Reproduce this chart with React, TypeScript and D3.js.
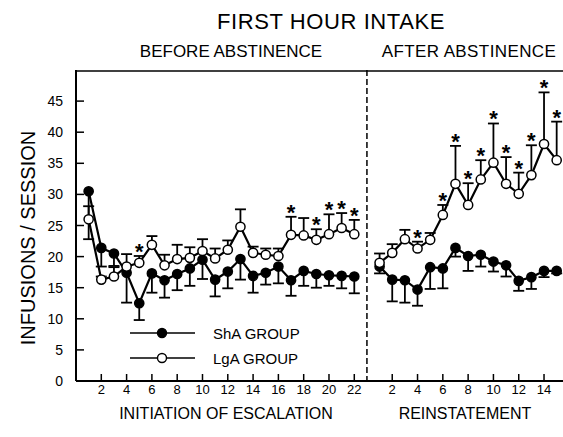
import { useEffect, useRef } from "react";
import * as d3 from "d3";

// sessions
const beforeSessions = [1, 2, 3, 4, 5, 6, 7, 8, 9, 10, 11, 12, 13, 14, 15, 16, 17, 18, 19, 20, 21, 22];
const afterSessions = [1, 2, 3, 4, 5, 6, 7, 8, 9, 10, 11, 12, 13, 14, 15];

// ShA (filled), error bars drawn downward
const shaBefore = [30.5, 21.4, 20.5, 17.4, 12.5, 17.3, 16.2, 17.2, 18.1, 19.5, 16.3, 17.6, 19.6, 16.9, 17.4, 18.4, 16.2, 17.7, 17.2, 17.0, 16.9, 16.8];
const shaBeforeErr = [7.7, 3.0, 2.0, 4.8, 2.7, 3.1, 2.8, 2.6, 2.8, 3.1, 2.7, 2.7, 3.3, 2.7, 1.9, 2.7, 2.5, 2.4, 2.2, 1.7, 2.0, 2.7];
const shaAfter = [18.4, 16.3, 16.2, 14.7, 18.3, 18.1, 21.4, 20.1, 20.3, 19.2, 18.6, 16.1, 16.7, 17.7, 17.7];
const shaAfterErr = [1.1, 3.5, 3.6, 2.6, 3.5, 3.2, 1.4, 2.4, 1.9, 1.6, 1.8, 1.6, 1.9, 1.0, 0.4];

// LgA (open), error bars drawn upward
const lgaBefore = [26.0, 16.3, 16.8, 18.4, 19.0, 21.9, 18.6, 19.6, 19.8, 20.9, 19.7, 21.1, 24.8, 20.6, 20.3, 20.1, 23.5, 23.4, 22.7, 23.6, 24.6, 23.6];
const lgaBeforeErr = [2.1, 0.5, 1.5, 2.0, 1.1, 1.4, 1.7, 2.3, 1.7, 1.9, 1.6, 1.5, 2.8, 1.0, 1.0, 1.2, 2.9, 2.8, 1.7, 3.2, 2.4, 2.3];
const lgaAfter = [19.0, 20.6, 22.8, 21.3, 22.7, 26.7, 31.7, 28.3, 32.4, 35.1, 31.7, 30.1, 33.1, 38.1, 35.5];
const lgaAfterErr = [1.5, 1.4, 1.5, 1.1, 1.1, 1.6, 6.1, 3.5, 3.1, 6.3, 4.3, 3.4, 4.8, 8.3, 6.2];

// significance stars (session numbers)
const starsBefore = [5, 17, 19, 20, 21, 22];
const starsAfter = [4, 6, 7, 8, 9, 10, 11, 12, 13, 14, 15];

const yTicks = [0, 5, 10, 15, 20, 25, 30, 35, 40, 45];
const beforeTicks = [2, 4, 6, 8, 10, 12, 14, 16, 18, 20, 22];
const afterTicks = [2, 4, 6, 8, 10, 12, 14];

const AFTER_OFFSET = 23;
const FONT = "'Liberation Sans', Arial, sans-serif";

const App = () => {
  const svgRef = useRef<SVGSVGElement | null>(null);

  useEffect(() => {
    const width = 563;
    const height = 437;
    const left = 76;
    const top = 70;
    const bottom = 381;

    const x = d3.scaleLinear().domain([0, 38.5]).range([left, width]);
    const y = d3.scaleLinear().domain([0, 50]).range([bottom, top]);

    const svg = d3.select(svgRef.current);
    svg.selectAll("*").remove();

    // frame
    svg.append("line").attr("x1", left).attr("x2", left).attr("y1", top).attr("y2", bottom)
      .attr("stroke", "#000").attr("stroke-width", 2);
    svg.append("line").attr("x1", left).attr("x2", width).attr("y1", bottom).attr("y2", bottom)
      .attr("stroke", "#000").attr("stroke-width", 2);
    svg.append("line").attr("x1", left).attr("x2", width).attr("y1", top + 1).attr("y2", top + 1)
      .attr("stroke", "#000").attr("stroke-width", 1.5);
    svg.append("line").attr("x1", x(AFTER_OFFSET)).attr("x2", x(AFTER_OFFSET))
      .attr("y1", top).attr("y2", bottom)
      .attr("stroke", "#000").attr("stroke-width", 1.5).attr("stroke-dasharray", "6,3");

    // y ticks
    const yt = svg.append("g");
    yt.selectAll("line").data(yTicks.filter((d) => d > 0)).join("line")
      .attr("x1", left).attr("x2", left + 8).attr("y1", (d) => y(d)).attr("y2", (d) => y(d))
      .attr("stroke", "#000").attr("stroke-width", 1.5);
    yt.selectAll("text").data(yTicks).join("text")
      .attr("x", 63).attr("y", (d) => y(d) + 5).attr("text-anchor", "end")
      .attr("font-family", FONT).attr("font-size", 14).text((d) => d);

    // x ticks
    const xTicks = [
      ...beforeTicks.map((d) => ({ p: d, label: d })),
      ...afterTicks.map((d) => ({ p: d + AFTER_OFFSET, label: d })),
    ];
    const xt = svg.append("g");
    xt.selectAll("line").data(xTicks).join("line")
      .attr("x1", (d) => x(d.p)).attr("x2", (d) => x(d.p)).attr("y1", bottom).attr("y2", bottom - 7)
      .attr("stroke", "#000").attr("stroke-width", 1.5);
    xt.selectAll("text").data(xTicks).join("text")
      .attr("x", (d) => x(d.p)).attr("y", 394).attr("text-anchor", "middle")
      .attr("font-family", FONT).attr("font-size", 13).text((d) => d.label);

    type Pt = { p: number; v: number; e: number };
    const build = (sessions: number[], vals: number[], errs: number[], off: number): Pt[] =>
      sessions.map((s, i) => ({ p: s + off, v: vals[i], e: errs[i] }));

    const groups = [
      {
        segs: [build(beforeSessions, shaBefore, shaBeforeErr, 0), build(afterSessions, shaAfter, shaAfterErr, AFTER_OFFSET)],
        dir: -1,
        fill: "#000",
      },
      {
        segs: [build(beforeSessions, lgaBefore, lgaBeforeErr, 0), build(afterSessions, lgaAfter, lgaAfterErr, AFTER_OFFSET)],
        dir: 1,
        fill: "#fff",
      },
    ];

    const line = d3.line<Pt>().x((d) => x(d.p)).y((d) => y(d.v));

    groups.forEach((g) => {
      g.segs.forEach((seg) => {
        svg.append("path").datum(seg).attr("fill", "none").attr("stroke", "#000")
          .attr("stroke-width", 2.2).attr("d", line);
        const eb = svg.append("g").attr("stroke", "#000").attr("stroke-width", 1.8);
        eb.selectAll("line.v").data(seg).join("line").attr("class", "v")
          .attr("x1", (d) => x(d.p)).attr("x2", (d) => x(d.p))
          .attr("y1", (d) => y(d.v)).attr("y2", (d) => y(d.v + g.dir * d.e));
        eb.selectAll("line.c").data(seg).join("line").attr("class", "c")
          .attr("x1", (d) => x(d.p) - 5.5).attr("x2", (d) => x(d.p) + 5.5)
          .attr("y1", (d) => y(d.v + g.dir * d.e)).attr("y2", (d) => y(d.v + g.dir * d.e));
      });
    });

    groups.forEach((g) => {
      g.segs.forEach((seg) => {
        svg.append("g").selectAll("circle").data(seg).join("circle")
          .attr("cx", (d) => x(d.p)).attr("cy", (d) => y(d.v)).attr("r", 4.6)
          .attr("fill", g.fill).attr("stroke", "#000").attr("stroke-width", 1.5);
      });
    });

    // stars above LgA error bars
    const stars = [
      ...starsBefore.map((s) => ({ p: s, top: lgaBefore[s - 1] + lgaBeforeErr[s - 1] })),
      ...starsAfter.map((s) => ({ p: s + AFTER_OFFSET, top: lgaAfter[s - 1] + lgaAfterErr[s - 1] })),
    ];
    svg.append("g").selectAll("text").data(stars).join("text")
      .attr("x", (d) => x(d.p)).attr("y", (d) => y(d.top) + 3).attr("text-anchor", "middle")
      .attr("font-family", FONT).attr("font-size", 22).attr("font-weight", "bold").text("*");

    // legend
    const legend = [
      { label: "ShA GROUP", fill: "#000", yy: 333 },
      { label: "LgA GROUP", fill: "#fff", yy: 358 },
    ];
    legend.forEach((l) => {
      svg.append("line").attr("x1", 130).attr("x2", 195).attr("y1", l.yy).attr("y2", l.yy)
        .attr("stroke", "#000").attr("stroke-width", 1.6);
      svg.append("circle").attr("cx", 162).attr("cy", l.yy).attr("r", 4.5)
        .attr("fill", l.fill).attr("stroke", "#000").attr("stroke-width", 1.4);
      svg.append("text").attr("x", 213).attr("y", l.yy + 6).attr("font-family", FONT)
        .attr("font-size", 15).text(l.label);
    });

    // titles
    const addText = (t: string, tx: number, ty: number, size: number, ls = 0) =>
      svg.append("text").attr("x", tx).attr("y", ty).attr("text-anchor", "middle")
        .attr("font-family", FONT).attr("font-size", size).attr("letter-spacing", ls).text(t);

    addText("FIRST HOUR INTAKE", 331, 29, 22, 0.6);
    addText("BEFORE ABSTINENCE", 231, 57, 17);
    addText("AFTER ABSTINENCE", 469, 57, 17, 0.4);
    addText("INITIATION OF ESCALATION", 226, 419, 16);
    addText("REINSTATEMENT", 465, 419, 16);

    svg.append("text").attr("transform", "translate(35,238) rotate(-90)")
      .attr("text-anchor", "middle").attr("font-family", FONT).attr("font-size", 20)
      .text("INFUSIONS / SESSION");
  }, []);

  return (
    <svg
      ref={svgRef}
      width={563}
      height={437}
      viewBox="0 0 563 437"
      style={{ position: "absolute", left: 0, top: 0, background: "#fff" }}
    />
  );
};

export default App;
